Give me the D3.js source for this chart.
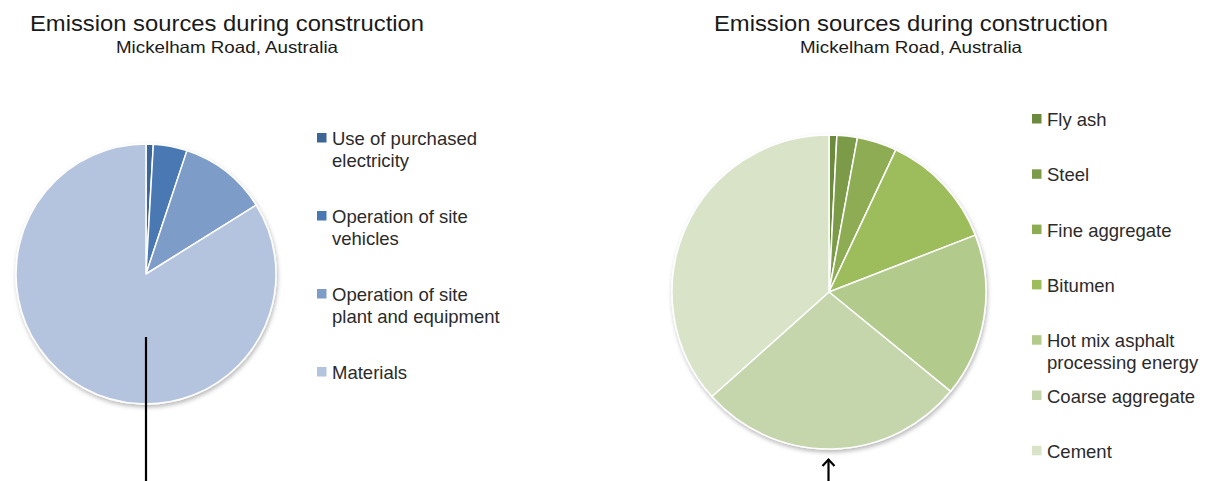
<!DOCTYPE html>
<html>
<head>
<meta charset="utf-8">
<script src="https://cdn.jsdelivr.net/npm/d3@7"></script>
<style>
  html, body { margin: 0; padding: 0; background: #fff; }
  svg { display: block; }
  text { font-family: "Liberation Sans", Arial, Helvetica, sans-serif; }
</style>
</head>
<body>
<svg id="chart" width="1217" height="481"></svg>
<script>
// Chart titles
const titleText = "Emission sources during construction";
const subtitleText = "Mickelham Road, Australia";

// Left pie: emission sources by activity (% of total)
const sourceCategories = [
  "Use of purchased electricity",
  "Operation of site vehicles",
  "Operation of site plant and equipment",
  "Materials"
];
const sourceValues = [0.9, 4.2, 11.0, 83.9];
const sourceColors = ["#3d6596", "#4a78b2", "#7e9cc8", "#b5c4de"];

// Right pie: material emission sources (% of total)
const materialCategories = [
  "Fly ash",
  "Steel",
  "Fine aggregate",
  "Bitumen",
  "Hot mix asphalt processing energy",
  "Coarse aggregate",
  "Cement"
];
const materialValues = [0.8, 2.1, 4.1, 12.1, 16.8, 27.5, 36.6];
const materialColors = ["#6c8a3d", "#7b9b48", "#8dac52", "#9dbd5b", "#b2ca8c", "#c6d6ac", "#d9e3c8"];

const svg = d3.select("#chart");

// soft shadow under the pies
const defs = svg.append("defs");
const shadow = defs.append("filter").attr("id", "pieShadow")
  .attr("x", "-10%").attr("y", "-10%").attr("width", "120%").attr("height", "125%");
shadow.append("feDropShadow")
  .attr("dx", 1).attr("dy", 2.5).attr("stdDeviation", 2)
  .attr("flood-color", "#000").attr("flood-opacity", 0.28);

function wrapLines(label, maxWidth, fontSize) {
  const probe = svg.append("text").attr("font-size", fontSize).attr("visibility", "hidden");
  const words = label.split(" ");
  const lines = [];
  let line = "";
  words.forEach(w => {
    const test = line ? line + " " + w : w;
    probe.text(test);
    if (probe.node().getComputedTextLength() > maxWidth && line) {
      lines.push(line);
      line = w;
    } else {
      line = test;
    }
  });
  if (line) lines.push(line);
  probe.remove();
  return lines;
}

function drawPanel(cfg) {
  const g = svg.append("g");

  // titles
  g.append("text")
    .attr("x", cfg.titleX).attr("y", 31)
    .attr("text-anchor", "middle")
    .attr("font-size", 22.5)
    .attr("fill", "#1a1a1a")
    .attr("textLength", 394).attr("lengthAdjust", "spacingAndGlyphs")
    .text(titleText);
  g.append("text")
    .attr("x", cfg.titleX).attr("y", 53)
    .attr("text-anchor", "middle")
    .attr("font-size", 16.5)
    .attr("fill", "#1a1a1a")
    .attr("textLength", 222).attr("lengthAdjust", "spacingAndGlyphs")
    .text(subtitleText);

  // pie
  const pie = d3.pie().sort(null).value(d => d.value);
  const arc = d3.arc().innerRadius(0).outerRadius(cfg.r);
  const data = cfg.categories.map((c, i) => ({ name: c, value: cfg.values[i], color: cfg.colors[i] }));
  const color = d3.scaleOrdinal().domain(cfg.categories).range(cfg.colors);

  const pg = g.append("g")
    .attr("transform", `translate(${cfg.cx},${cfg.cy})`)
    .attr("filter", "url(#pieShadow)");
  pg.selectAll("path")
    .data(pie(data))
    .join("path")
    .attr("d", arc)
    .attr("fill", d => color(d.data.name))
    .attr("stroke", "#fff")
    .attr("stroke-width", 1.5)
    .attr("stroke-linejoin", "round");

  // legend
  const lg = g.append("g");
  cfg.categories.forEach((c, i) => {
    const baseY = cfg.legendY0 + i * cfg.legendStep;
    lg.append("rect")
      .attr("x", cfg.legendX).attr("y", baseY - 12)
      .attr("width", 9.5).attr("height", 9.5)
      .attr("fill", color(c));
    const lines = wrapLines(c, cfg.wrapWidth, 18.5);
    const t = lg.append("text")
      .attr("x", cfg.legendX + 15).attr("y", baseY)
      .attr("font-size", 18.5)
      .attr("fill", "#2b2b2b");
    lines.forEach((ln, k) => {
      t.append("tspan")
        .attr("x", cfg.legendX + 15)
        .attr("dy", k === 0 ? 0 : 22)
        .text(ln);
    });
  });
  return g;
}

drawPanel({
  titleX: 227, cx: 146, cy: 274, r: 130,
  categories: sourceCategories, values: sourceValues, colors: sourceColors,
  legendX: 317, legendY0: 145, legendStep: 78, wrapWidth: 180
});

drawPanel({
  titleX: 911, cx: 829, cy: 292, r: 157,
  categories: materialCategories, values: materialValues, colors: materialColors,
  legendX: 1032, legendY0: 126, legendStep: 55.3, wrapWidth: 168
});

// pointer line below the left pie
svg.append("line")
  .attr("x1", 146).attr("x2", 146)
  .attr("y1", 337).attr("y2", 481)
  .attr("stroke", "#000").attr("stroke-width", 2.2);

// arrow below the right pie
svg.append("line")
  .attr("x1", 828.5).attr("x2", 828.5)
  .attr("y1", 459).attr("y2", 481)
  .attr("stroke", "#000").attr("stroke-width", 2.2);
svg.append("path")
  .attr("d", "M822.5,466 L828.5,459.5 L834.5,466")
  .attr("fill", "none").attr("stroke", "#000").attr("stroke-width", 2.2)
  .attr("stroke-linejoin", "miter");
</script>
</body>
</html>
